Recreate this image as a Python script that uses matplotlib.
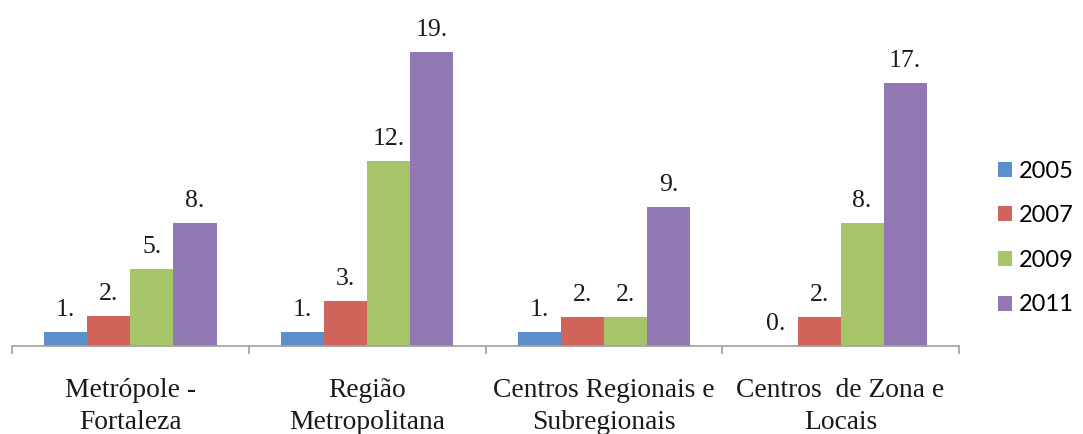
import numpy as np
import matplotlib.pyplot as plt

# Dados
categorias = ["Metrópole -\nFortaleza", "Região\nMetropolitana",
              "Centros Regionais e\nSubregionais", "Centros  de Zona e\nLocais"]
anos = ["2005", "2007", "2009", "2011"]
v2005 = [0.9, 0.9, 0.9, 0.0]
v2007 = [1.95, 2.95, 1.9, 1.9]
v2009 = [5.0, 12.0, 1.9, 8.0]
v2011 = [8.0, 19.1, 9.0, 17.1]
rotulos = [
    ["1.", "1.", "1.", "0."],
    ["2.", "3.", "2.", "2."],
    ["5.", "12.", "2.", "8."],
    ["8.", "19.", "9.", "17."],
]
cores = ["#5A8FCB", "#D0645B", "#A6C468", "#9178B3"]

series = [v2005, v2007, v2009, v2011]

fig = plt.figure(figsize=(10.83, 4.34), dpi=100)
ax = fig.add_axes([12 / 1083, 88 / 434, 947 / 1083, 346 / 434])

x = np.arange(len(categorias))
largura = 0.182
for i, (vals, ano, cor) in enumerate(zip(series, anos, cores)):
    pos = x + (i - 1.5) * largura
    ax.bar(pos, vals, width=largura, color=cor, label=ano)
    for p, v, txt in zip(pos, vals, rotulos[i]):
        ax.annotate(txt, (p, v), xytext=(0, 11.5), textcoords="offset points",
                    ha="center", va="baseline", fontsize=18.5,
                    family="Liberation Serif", color="#1a1a1a")

ax.set_xlim(-0.5, len(categorias) - 0.5)
ax.set_ylim(0, 22.47)

for s in ["top", "right", "left"]:
    ax.spines[s].set_visible(False)
ax.spines["bottom"].set_color("#A0A0A0")
ax.spines["bottom"].set_linewidth(1.2)
ax.set_yticks([])

ax.set_xticks(np.arange(len(categorias) + 1) - 0.5)
ax.set_xticklabels([])
ax.tick_params(axis="x", which="major", length=6, color="#A0A0A0", width=1.2)
ax.set_xticks(x, minor=True)
ax.set_xticklabels(categorias, minor=True, fontsize=19.8,
                   family="Liberation Serif", color="#1a1a1a",
                   linespacing=1.35)
ax.tick_params(axis="x", which="minor", length=0, pad=23)

fig.legend(loc="center left", bbox_to_anchor=(998 / 1083, 1 - 238 / 434),
           frameon=False, prop={"family": "Lato", "size": 17},
           handlelength=0.6, handleheight=0.6, handletextpad=0.3,
           labelspacing=1.0, borderpad=0, borderaxespad=0)

fig.savefig("out.png", dpi=100)
